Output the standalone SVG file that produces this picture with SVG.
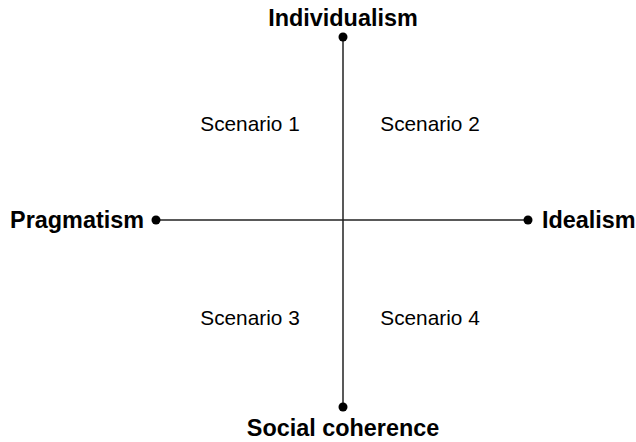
<svg xmlns="http://www.w3.org/2000/svg" width="636" height="442" viewBox="0 0 636 442">
<style>
.axis{stroke:#222;stroke-width:1.5;fill:none}
.dot{fill:#000}
.lbl{font-family:"Liberation Sans",Arial,sans-serif;font-weight:bold;font-size:23.4px;fill:#000}
.sc{font-family:"Liberation Sans",Arial,sans-serif;font-size:20.8px;fill:#000}
</style>
<rect width="636" height="442" fill="#fff"/>
<g id="connectors">
<line class="axis" x1="343" y1="37" x2="343" y2="407"/>
<line class="axis" x1="156" y1="220" x2="528" y2="220"/>
</g>
<g id="individualism"><circle class="dot" cx="343" cy="37" r="4.5"/><text class="lbl" x="343" y="26" text-anchor="middle">Individualism</text></g>
<g id="social"><circle class="dot" cx="343" cy="407" r="4.5"/><text class="lbl" x="343" y="436" text-anchor="middle">Social coherence</text></g>
<g id="pragmatism"><circle class="dot" cx="156" cy="220" r="4.5"/><text class="lbl" x="144" y="228" text-anchor="end">Pragmatism</text></g>
<g id="idealism"><circle class="dot" cx="528" cy="220" r="4.5"/><text class="lbl" x="542" y="228">Idealism</text></g>
<g id="s1"><text class="sc" x="250" y="131" text-anchor="middle">Scenario 1</text></g>
<g id="s2"><text class="sc" x="430" y="131" text-anchor="middle">Scenario 2</text></g>
<g id="s3"><text class="sc" x="250" y="325" text-anchor="middle">Scenario 3</text></g>
<g id="s4"><text class="sc" x="430" y="325" text-anchor="middle">Scenario 4</text></g>
</svg>
